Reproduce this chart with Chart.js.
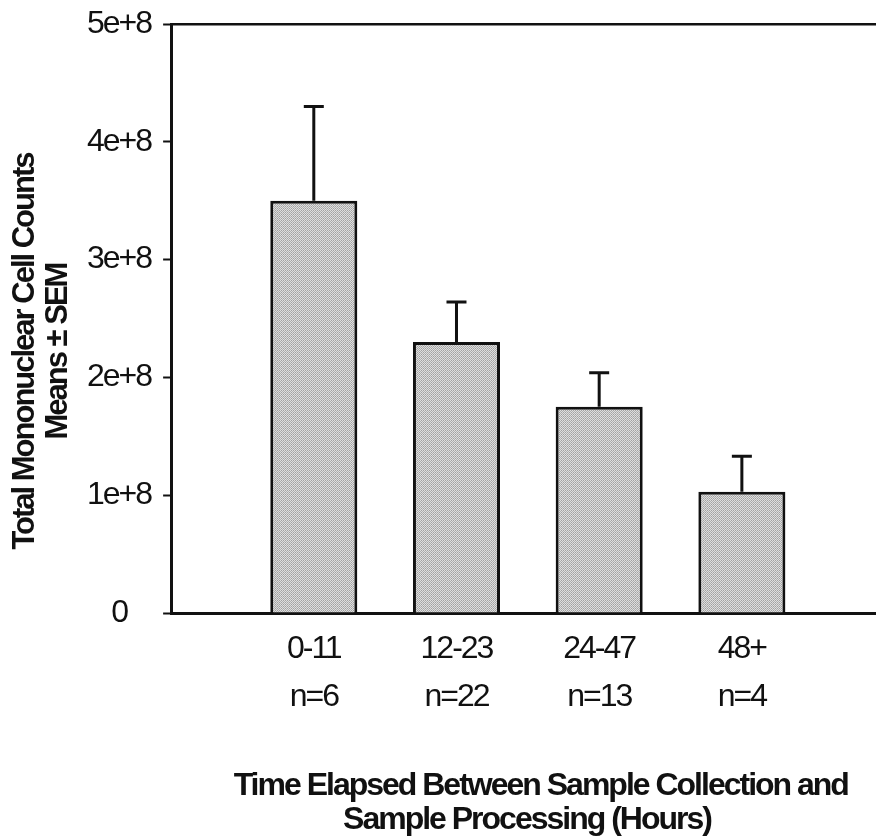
<!DOCTYPE html>
<html>
<head>
<meta charset="utf-8">
<script src="https://cdn.jsdelivr.net/npm/chart.js@4.4.0/dist/chart.umd.min.js"></script>
<style>
  html, body { margin: 0; padding: 0; background: #fff; }
  #wrap { width: 876px; height: 840px; position: relative; }
</style>
</head>
<body>
<div id="wrap"><canvas id="myChart"></canvas></div>
<script>
// groups of hours elapsed, with the n under each label
const timeGroups = ['0-11', '12-23', '24-47', '48+'];
const groupSizes = [6, 22, 13, 4];
// mean cell counts and the SEM drawn on top of each bar
const cellMeans = [3.5e8, 2.3e8, 1.75e8, 1.03e8];
const cellSem = [0.8e8, 0.34e8, 0.29e8, 0.30e8];
const yTickLabels = ['0', '1e+8', '2e+8', '3e+8', '4e+8', '5e+8'];

const FONT = "'Liberation Sans', Arial, sans-serif";
// spaces nudge the titles off-centre, like the original
const padTitle = ' '.repeat(10);

// the scanned figure uses a tall, tightly spaced Arial
const tightText = {
    id: 'tightText',
    beforeUpdate(chart) { chart.ctx.letterSpacing = '-2px'; },
    beforeDraw(chart) { chart.ctx.letterSpacing = '-2px'; }
};

const errorBars = {
    id: 'errorBars',
    afterDatasetsDraw(chart) {
        const ctx = chart.ctx;
        const yScale = chart.scales.y;
        const meta = chart.getDatasetMeta(0);
        ctx.save();
        ctx.strokeStyle = '#111';
        ctx.lineWidth = 3;
        meta.data.forEach((bar, i) => {
            const top = yScale.getPixelForValue(cellMeans[i] + cellSem[i]);
            ctx.beginPath();
            ctx.moveTo(bar.x, bar.y);
            ctx.lineTo(bar.x, top);
            ctx.moveTo(bar.x - 10, top);
            ctx.lineTo(bar.x + 10, top);
            ctx.stroke();
        });
        ctx.restore();
    }
};

// halftone-like grey fill for the bars
function stipple() {
    const c = document.createElement('canvas');
    c.width = 2; c.height = 2;
    const g = c.getContext('2d');
    g.fillStyle = '#dedede'; g.fillRect(0, 0, 2, 2);
    g.fillStyle = '#a2a2a2'; g.fillRect(1, 0, 1, 1);
    g.fillStyle = '#b0b0b0'; g.fillRect(0, 1, 1, 1);
    return g.createPattern(c, 'repeat');
}

const data = {
    datasets: [{
        data: timeGroups.map((g, i) => ({ x: i + 1, y: cellMeans[i] })),
        backgroundColor: stipple(),
        borderColor: '#111',
        borderWidth: 3,
        categoryPercentage: 1,
        barPercentage: 0.61
    }]
};

const config = {
    type: 'bar',
    data: data,
    options: {
        responsive: true,
        maintainAspectRatio: false,
        animation: false,
        layout: {
            padding: { top: 10, left: 4, right: 0, bottom: 2.5 }
        },
        plugins: {
            legend: { display: false },
            tooltip: { enabled: false }
        },
        scales: {
            x: {
                type: 'linear',
                position: 'bottom',
                offset: false,
                min: 0,
                max: 4.94,
                afterBuildTicks: function (axis) {
                    axis.ticks = timeGroups.map((g, i) => ({ value: i + 1 }));
                },
                ticks: {
                    color: '#111',
                    padding: 12.5,
                    autoSkip: false,
                    maxRotation: 0,
                    font: { family: FONT, size: 32, lineHeight: 1.5 },
                    callback: function (value) {
                        const i = Math.round(value) - 1;
                        return [timeGroups[i], 'n=' + groupSizes[i]];
                    }
                },
                grid: { display: false, drawTicks: false },
                border: { display: true, color: '#111', width: 3 },
                title: {
                    display: true,
                    text: ['     Time Elapsed Between Sample Collection and', ' Sample Processing (Hours)'],
                    color: '#111',
                    padding: { top: 35.5, bottom: 0 },
                    font: { family: FONT, size: 32, weight: 'bold', lineHeight: 1.0625 }
                }
            },
            xTop: {
                type: 'linear',
                position: 'top',
                min: 0,
                max: 4.94,
                ticks: { display: false },
                grid: { display: false, drawTicks: false },
                border: { display: true, color: '#111', width: 2.5 }
            },
            y: {
                type: 'linear',
                min: 0,
                max: 5e8,
                ticks: {
                    stepSize: 1e8,
                    color: '#111',
                    padding: 12,
                    crossAlign: 'center',
                    font: { family: FONT, size: 32, lineHeight: 0.75 },
                    callback: function (value) {
                        return yTickLabels[Math.round(value / 1e8)];
                    }
                },
                grid: {
                    drawOnChartArea: false,
                    drawTicks: true,
                    tickLength: 8,
                    tickWidth: 2,
                    tickColor: '#111'
                },
                border: { display: true, color: '#111', width: 3 },
                title: {
                    display: true,
                    text: ['Total Mononuclear Cell Counts' + padTitle, 'Means \u00b1 SEM' + padTitle],
                    color: '#111',
                    padding: { top: 5, bottom: 0 },
                    font: { family: FONT, size: 31, weight: 'bold', lineHeight: 1.065 }
                }
            }
        }
    },
    plugins: [tightText, errorBars]
};

window.myChart = new Chart(document.getElementById('myChart'), config);
</script>
</body>
</html>
